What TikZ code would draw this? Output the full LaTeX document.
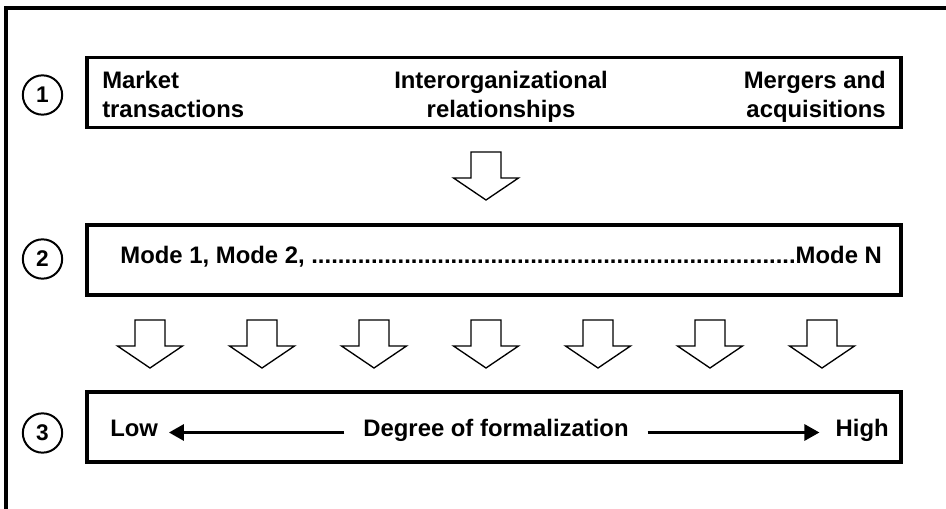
\documentclass[tikz,border=0pt]{standalone}
\usepackage{fontspec}
\setmainfont{Liberation Sans}
\usetikzlibrary{arrows.meta}

\newcommand{\blockarrow}[2]{%
  \draw[block arrow] (#1-15,#2) -- (#1+15,#2) -- (#1+15,#2+26) -- (#1+32.5,#2+26)
    -- (#1,#2+48) -- (#1-32.5,#2+26) -- (#1-15,#2+26) -- cycle;}

\begin{document}
\begin{tikzpicture}[x=0.75pt,y=-0.75pt,font=\fontsize{17.9}{21.8}\selectfont\bfseries,
  level box/.style={draw,line width=2.6pt,minimum width=610.5pt,minimum height=52.5pt,inner sep=0pt},
  level num/.style={circle,draw,line width=1.5pt,minimum size=29.5pt,inner sep=0pt,font=\fontsize{17}{18}\selectfont\bfseries},
  box text/.style={inner sep=0pt}]
\tikzstyle{block arrow} = [draw,line width=1pt,fill=white,line join=miter]
\tikzstyle{scale arrow} = [draw,line width=2.25pt,-{Triangle[length=11.25pt,width=12pt]}]
\useasboundingbox (0,0) rectangle (946,509);

% Outer frame
\draw[line width=2.5pt] (946,8) -- (6,8) -- (6,509);

% Level boxes and numbers
\node[level box] (tier1) at (494,92.5) {};
\node[level box] (tier2) at (494,260) {};
\node[level box] (tier3) at (494,427) {};
\node[level num] (num1) at (42.5,95) {1};
\node[level num] (num2) at (42.5,259) {2};
\node[level num] (num3) at (42.5,433) {3};

% Level 1
\node[box text,anchor=north west,align=left] (market) at (102,70.5) {Market\\transactions};
\node[box text,anchor=north,align=center] (interorg) at (501,70.5) {Interorganizational\\relationships};
\node[box text,anchor=north east,align=right] (mergers) at (886,70.5) {Mergers and\\acquisitions};

% Level 2
\node[box text,anchor=base] (modes) at (501,264) {Mode 1, Mode 2, .........................................................................Mode N};

% Level 3
\coordinate (axis) at (0,432.5);
\node[box text,anchor=base west] (low) at (110,436) {Low};
\node[box text,anchor=base east] (high) at (889,436) {High};
\node[box text,anchor=base] (degree) at (496,436) {Degree of formalization};
\draw[scale arrow,shorten <=14pt,shorten >=8pt] (degree.west |- axis) -- (low.east |- axis);
\draw[scale arrow,shorten <=14pt,shorten >=12pt] (degree.east |- axis) -- (high.west |- axis);

% Block arrows
\blockarrow{486}{152}
\foreach \x in {150,262,...,822} {
  \blockarrow{\x}{320}
}

\end{tikzpicture}
\end{document}
